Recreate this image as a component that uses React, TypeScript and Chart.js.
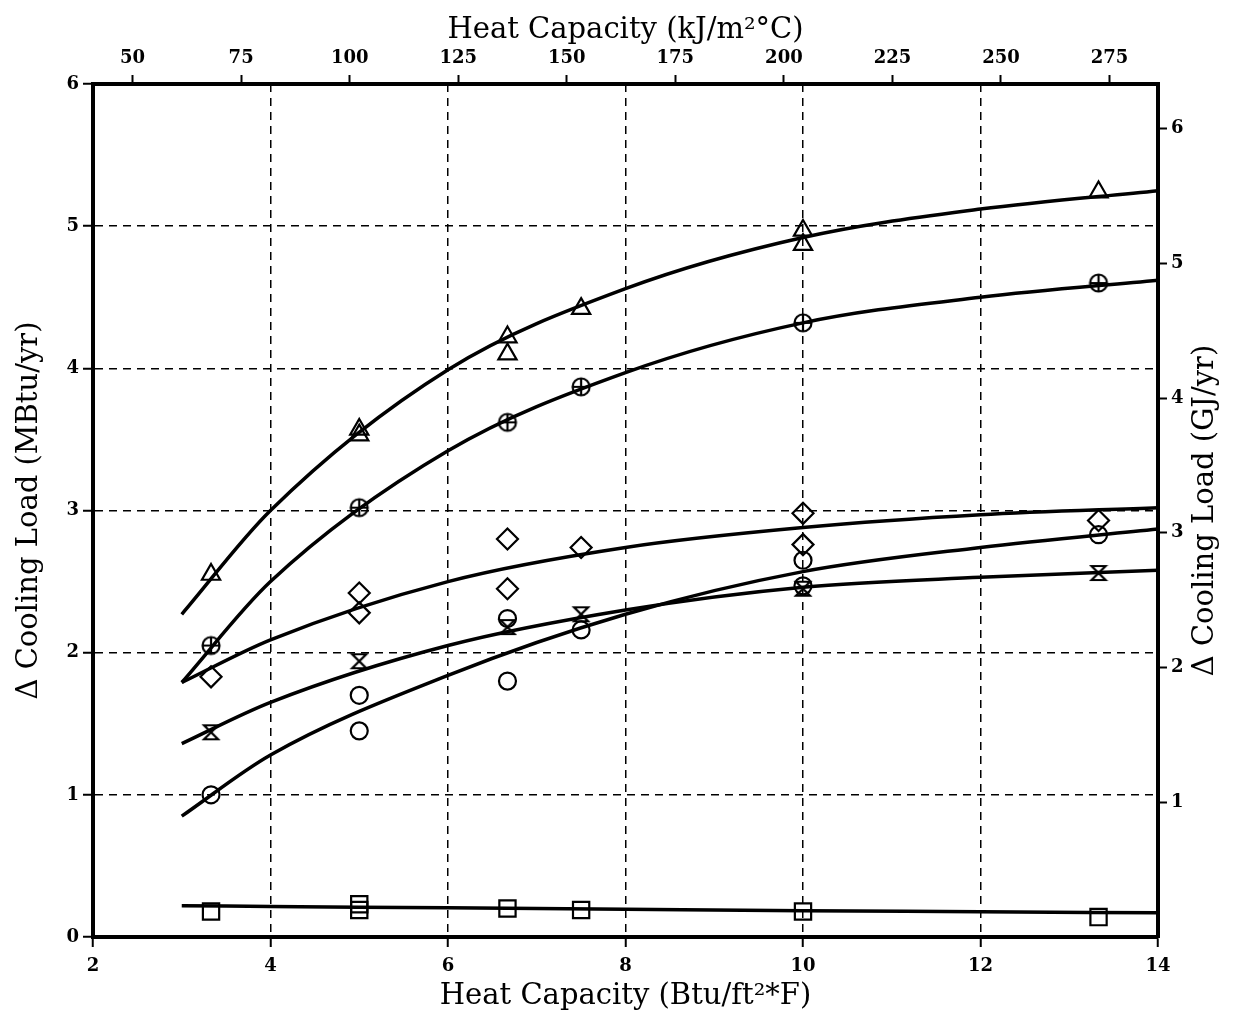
import React, { useEffect, useRef } from 'react';
import { Chart, registerables } from 'chart.js';

Chart.register(...registerables);

// unit conversions for the secondary axes
const BTU_TO_KJ = 20.44; // 1 Btu/ft²·°F = 20.44 kJ/m²·°C
const MBTU_TO_GJ = 1.05506; // 1 MBtu = 1.055 GJ

// axis ticks and titles
const topTicksKJ = [50, 75, 100, 125, 150, 175, 200, 225, 250, 275];
const rightTicksGJ = [1, 2, 3, 4, 5, 6];
const bottomTitle = 'Heat Capacity (Btu/ft²*F)';
const topTitle = 'Heat Capacity (kJ/m²°C)';
const leftTitle = 'Δ Cooling Load (MBtu/yr)';
const rightTitle = 'Δ Cooling Load (GJ/yr)';

// measured points (x: Btu/ft²·°F, y: MBtu/yr)
const triX = [3.33, 5, 5, 6.67, 6.67, 7.5, 10, 10, 13.33];
const triY = [2.55, 3.57, 3.53, 4.22, 4.1, 4.42, 4.97, 4.87, 5.24];

const cpX = [3.33, 5, 6.67, 7.5, 10, 13.33];
const cpY = [2.05, 3.02, 3.62, 3.87, 4.32, 4.6];

const diaX = [3.33, 5, 5, 6.67, 6.67, 7.5, 10, 10, 13.33];
const diaY = [1.83, 2.42, 2.28, 2.8, 2.45, 2.74, 2.98, 2.76, 2.93];

const hgX = [3.33, 5, 6.67, 7.5, 10, 13.33];
const hgY = [1.44, 1.94, 2.18, 2.27, 2.45, 2.56];

const cirX = [3.33, 5, 5, 6.67, 6.67, 7.5, 10, 10, 13.33];
const cirY = [1.0, 1.7, 1.45, 2.24, 1.8, 2.16, 2.65, 2.47, 2.83];

const sqX = [3.33, 5, 5, 6.67, 7.5, 10, 13.33];
const sqY = [0.18, 0.23, 0.19, 0.2, 0.19, 0.18, 0.14];

// fitted curves
const fitX = [3, 4, 6, 8, 10, 12, 14];
const triFit = [2.27, 3.0, 3.99, 4.56, 4.92, 5.12, 5.25];
const cpFit = [1.79, 2.5, 3.42, 3.97, 4.32, 4.5, 4.62];
const diaFit = [1.79, 2.09, 2.5, 2.74, 2.88, 2.97, 3.02];
const hgFit = [1.36, 1.65, 2.05, 2.3, 2.46, 2.53, 2.58];
const cirFit = [0.85, 1.28, 1.84, 2.27, 2.57, 2.74, 2.87];
const sqFit = [0.22, 0.215, 0.205, 0.195, 0.185, 0.178, 0.17];

const zip = (xs: number[], ys: number[]) => xs.map((x, i) => ({ x, y: ys[i] }));

function makeCirclePlus(): HTMLCanvasElement {
  const c = document.createElement('canvas');
  c.width = 22; c.height = 22;
  const g = c.getContext('2d')!;
  g.strokeStyle = '#000'; g.lineWidth = 2.2;
  g.beginPath(); g.arc(11, 11, 8.5, 0, Math.PI * 2); g.stroke();
  g.beginPath(); g.moveTo(2.5, 11); g.lineTo(19.5, 11); g.moveTo(11, 2.5); g.lineTo(11, 19.5); g.stroke();
  return c;
}

function makeHourglass(): HTMLCanvasElement {
  const c = document.createElement('canvas');
  c.width = 20; c.height = 20;
  const g = c.getContext('2d')!;
  g.strokeStyle = '#000'; g.lineWidth = 2.2;
  g.lineJoin = 'miter';
  g.beginPath();
  g.moveTo(3, 3); g.lineTo(17, 3); g.lineTo(3, 17); g.lineTo(17, 17); g.closePath();
  g.stroke();
  return c;
}

const TITLE_FONT = 'normal 29px "DejaVu Serif"';

const rightTitlePlugin = {
  id: 'rightTitle',
  afterDraw(chart: any) {
    const { ctx, chartArea } = chart;
    ctx.save();
    ctx.fillStyle = '#000';
    ctx.font = TITLE_FONT;
    ctx.textAlign = 'center';
    ctx.textBaseline = 'middle';
    ctx.translate(1205, (chartArea.top + chartArea.bottom) / 2);
    ctx.rotate(-Math.PI / 2);
    ctx.fillText(rightTitle, 0, 0);
    ctx.restore();
  },
};

export default function App() {
  const ref = useRef<HTMLCanvasElement | null>(null);

  useEffect(() => {
    if (!ref.current) return;
    const tickFont = { family: 'DejaVu Serif', size: 18, weight: 'bold' as const };
    const titleFont = { family: 'DejaVu Serif', size: 29, weight: 'normal' as const };
    const cp = makeCirclePlus();
    const hg = makeHourglass();

    const markers = (data: any[], style: any, radius: number) => ({
      data,
      showLine: false,
      pointStyle: style,
      pointRadius: radius,
      pointHoverRadius: radius,
      pointBorderColor: '#000',
      pointBackgroundColor: 'rgba(0,0,0,0)',
      pointBorderWidth: 2.2,
      xAxisID: 'x',
      yAxisID: 'y',
    });
    const curve = (ys: number[]) => ({
      data: zip(fitX, ys),
      showLine: true,
      pointRadius: 0,
      borderColor: '#000',
      borderWidth: 3.5,
      cubicInterpolationMode: 'monotone' as const,
      xAxisID: 'x',
      yAxisID: 'y',
    });

    const chart = new Chart(ref.current, {
      type: 'scatter',
      data: {
        datasets: [
          curve(triFit), curve(cpFit), curve(diaFit), curve(hgFit), curve(cirFit), curve(sqFit),
          markers(zip(triX, triY), 'triangle', 10.5),
          markers(zip(cpX, cpY), cp, 11),
          markers(zip(diaX, diaY), 'rectRot', 10.5),
          markers(zip(hgX, hgY), hg, 10),
          markers(zip(cirX, cirY), 'circle', 8.5),
          markers(zip(sqX, sqY), 'rect', 11.5),
        ] as any,
      },
      plugins: [rightTitlePlugin],
      options: {
        animation: false,
        responsive: false,
        maintainAspectRatio: false,
        devicePixelRatio: 1,
        layout: { padding: 0 },
        plugins: { legend: { display: false }, tooltip: { enabled: false } },
        scales: {
          x: {
            type: 'linear', position: 'bottom', min: 2, max: 14,
            ticks: { stepSize: 2, color: '#000', font: tickFont, padding: 9 },
            grid: { color: '#000', lineWidth: 1.5, tickLength: 10, tickWidth: 2, tickColor: '#000' },
            border: { display: true, color: '#000', width: 4, dash: [8, 6] },
            title: { display: true, text: bottomTitle, color: '#000', font: titleFont, padding: { top: 0, bottom: 1 } },
            afterFit: (s: any) => { s.height = 78; },
          },
          x2: {
            type: 'linear', position: 'top', min: 2 * BTU_TO_KJ, max: 14 * BTU_TO_KJ,
            afterBuildTicks: (s: any) => { s.ticks = topTicksKJ.map((v) => ({ value: v })); },
            ticks: { color: '#000', font: tickFont, padding: 6 },
            grid: { drawOnChartArea: false, color: '#000', tickLength: 9, tickWidth: 2, tickColor: '#000' },
            border: { display: true, color: '#000', width: 4 },
            title: { display: true, text: topTitle, color: '#000', font: titleFont, padding: { top: 13, bottom: 0 } },
            afterFit: (s: any) => { s.height = 84; },
          },
          y: {
            type: 'linear', position: 'left', min: 0, max: 6,
            ticks: { stepSize: 1, color: '#000', font: tickFont, padding: 4 },
            grid: { color: '#000', lineWidth: 1.5, tickLength: 10, tickWidth: 2, tickColor: '#000' },
            border: { display: true, color: '#000', width: 4, dash: [8, 6] },
            title: { display: true, text: leftTitle, color: '#000', font: titleFont, padding: { top: 12, bottom: 0 } },
            afterFit: (s: any) => { s.width = 93; },
          },
          y2: {
            type: 'linear', position: 'right', min: 0, max: 6 * MBTU_TO_GJ,
            afterBuildTicks: (s: any) => { s.ticks = rightTicksGJ.map((v) => ({ value: v })); },
            ticks: { color: '#000', font: tickFont, padding: 4 },
            grid: { drawOnChartArea: false, color: '#000', tickLength: 9, tickWidth: 2, tickColor: '#000' },
            border: { display: true, color: '#000', width: 4 },
            title: { display: false },
            afterFit: (s: any) => { s.width = 75; },
          },
        },
      } as any,
    });
    return () => chart.destroy();
  }, []);

  return (
    <div style={{ position: 'fixed', left: 0, top: 0, width: 1233, height: 1015, background: '#fff' }}>
      <canvas ref={ref} width={1233} height={1015} style={{ display: 'block' }} />
    </div>
  );
}
